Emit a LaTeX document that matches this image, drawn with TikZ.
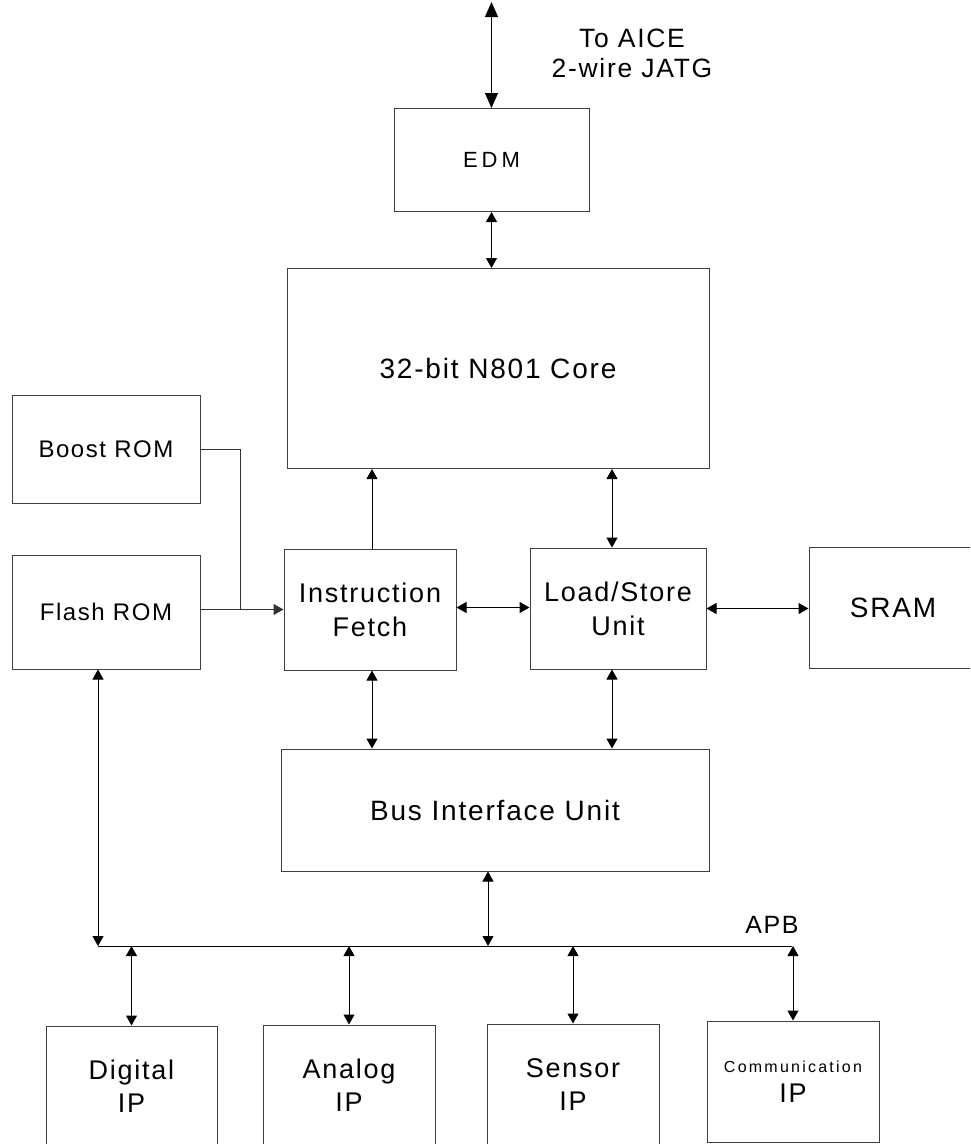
\documentclass[tikz,border=0pt]{standalone}
\usepackage{fontspec}
\setmainfont{Liberation Sans}[LetterSpace=6.5]
\newfontfamily\edmfont{Liberation Sans}[LetterSpace=18]
\newfontfamily\commfont{Liberation Sans}[LetterSpace=14]
\usetikzlibrary{arrows.meta}

\begin{document}
\begin{tikzpicture}[x = 1pt, y = -1pt,
  box/.style = {draw = black!75, line width = 1pt, align = center, inner sep = 0pt},
  note/.style = {align = center, inner sep = 0pt},
  wire/.style = {draw = black!80, line width = 1pt},
  oneway/.style = {line width = 1pt, -{Triangle[length = 10pt, width = 11pt]}},
  twoway/.style = {line width = 1pt, {Triangle[length = 10pt, width = 11pt]}-{Triangle[length = 10pt, width = 11pt]}},
  bigway/.style = {line width = 1pt, {Triangle[length = 15pt, width = 13pt]}-{Triangle[length = 15pt, width = 13pt]}}]

  \clip[use as bounding box] (0, 0) rectangle (970, 1144);

  % debug module and core
  \node[box, minimum width = 195pt, minimum height = 103pt, font = \edmfont\fontsize{22}{26}\selectfont] (edm) at (491.5, 160) {EDM};
  \node[note, font = \fontsize{26.5}{30}\selectfont] (aicetext) at (632, 53) {To AICE\\2-wire JATG};
  \node[box, minimum width = 422pt, minimum height = 200pt, font = \fontsize{28}{33}\selectfont] (core) at (498, 368.5) {32-bit N801 Core};

  % memories and pipeline units
  \node[box, minimum width = 188pt, minimum height = 108pt, font = \fontsize{24}{29}\selectfont] (boost) at (106, 449) {Boost ROM};
  \node[box, minimum width = 188pt, minimum height = 114pt, font = \fontsize{24}{29}\selectfont] (flash) at (106, 612) {Flash ROM};
  \node[box, minimum width = 172pt, minimum height = 121pt, font = \fontsize{27}{34}\selectfont] (fetch) at (370, 609.5) {Instruction\\Fetch};
  \node[box, minimum width = 176pt, minimum height = 121pt, font = \fontsize{27}{34}\selectfont] (lsu) at (618, 608.5) {Load/Store\\Unit};
  \node[box, minimum width = 168pt, minimum height = 121pt, font = \fontsize{28}{33}\selectfont] (sram) at (893, 607.5) {SRAM};
  \node[box, minimum width = 428pt, minimum height = 122pt, font = \fontsize{28}{33}\selectfont] (biu) at (495, 810) {Bus Interface Unit};

  % peripherals on the APB
  \node[note, font = \fontsize{25}{30}\selectfont] (apb) at (772, 925) {APB};
  \node[box, minimum width = 171pt, minimum height = 120pt, font = \fontsize{27}{33}\selectfont] (dig) at (131.5, 1086) {Digital\\IP};
  \node[box, minimum width = 172pt, minimum height = 121pt, font = \fontsize{27}{33}\selectfont] (ana) at (349, 1085.5) {Analog\\IP};
  \node[box, minimum width = 172pt, minimum height = 122pt, font = \fontsize{27}{33}\selectfont] (sen) at (573, 1085) {Sensor\\IP};
  \node[box, minimum width = 172pt, minimum height = 121pt, font = \fontsize{27}{30}\selectfont] (com) at (793, 1081.5) {{\commfont\fontsize{16}{20}\selectfont Communication}\\IP};

  \coordinate (aice) at (491.5, 2);
  \coordinate (join) at (240, 609.5);
  \coordinate (busl) at (98, 946);
  \coordinate (busr) at (792, 946);

  \draw[bigway] (edm.north) -- (aice);
  \draw[twoway] (edm.south) -- (edm.south |- core.north);
  \draw[oneway] ([xshift = 2pt]fetch.north) -- ([xshift = 2pt]fetch.north |- core.south);
  \draw[twoway] ([xshift = -6pt]lsu.north) -- ([xshift = -6pt]lsu.north |- core.south);

  \draw[wire] (boost.east) -| (join);
  \draw[oneway, draw = black!80] (fetch.west -| flash.east) -- (fetch.west);
  \draw[twoway] ([yshift = 2pt]fetch.east) -- ([yshift = 2pt]fetch.east -| lsu.west);
  \draw[twoway] (lsu.east) -- (lsu.east -| sram.west);

  \draw[twoway] ([xshift = 2pt]fetch.south) -- ([xshift = 2pt]fetch.south |- biu.north);
  \draw[twoway] ([xshift = -6pt]lsu.south) -- ([xshift = -6pt]lsu.south |- biu.north);

  \draw[wire, draw = black] (busl) -- (busr);
  \draw[twoway] (busl |- flash.south) -- (busl);
  \draw[twoway] ([xshift = -7pt]biu.south) -- ([xshift = -7pt]biu.south |- busl);
  \foreach \ip in {dig, ana, sen, com}
    \draw[twoway] (\ip.north |- busl) -- (\ip.north);

\end{tikzpicture}
\end{document}
